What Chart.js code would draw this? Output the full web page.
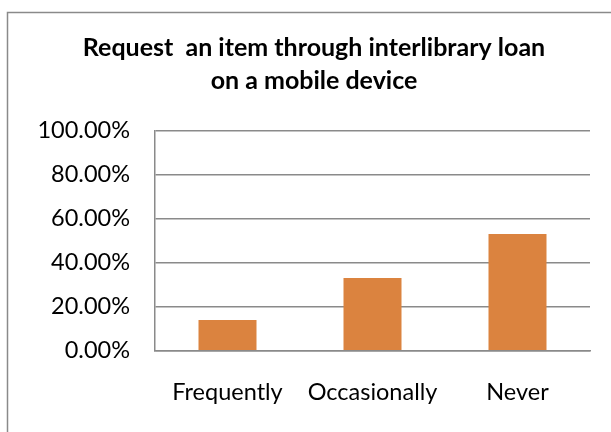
<!DOCTYPE html>
<html>
<head>
<meta charset="utf-8">
<script src="https://cdn.jsdelivr.net/npm/chart.js@4.4.1/dist/chart.umd.min.js"></script>
<style>
html,body{margin:0;padding:0;background:#fff;}
#box{width:611px;height:432px;position:relative;}
</style>
</head>
<body>
<div id="box"><canvas id="canvas"></canvas></div>
<script>
const categories=["Frequently","Occasionally","Never"];
const values=[14,33,53];
const titleLines=["Request  an item through interlibrary loan","on a mobile device"];
const yTicks=[0,20,40,60,80,100];

const frame={
    id:"frame",
    beforeDraw(chart){
        const c=chart.ctx;
        c.save();
        c.strokeStyle="#8a8a8a";
        c.lineWidth=1.5;
        c.strokeRect(7.5,12.5,700,500);
        c.restore();
    }
};

const ctx=document.getElementById("canvas");
new Chart(ctx,{
    type:"bar",
    data:{
        labels:categories,
        datasets:[{
            data:values,
            backgroundColor:"#DB833F",
            borderWidth:0,
            barPercentage:0.4,
            categoryPercentage:1
        }]
    },
    options:{
        responsive:true,
        maintainAspectRatio:false,
        animation:false,
        layout:{
            padding:{left:38,right:21,top:0,bottom:0}
        },
        plugins:{
            legend:{display:false},
            tooltip:{enabled:false},
            title:{
                display:true,
                text:titleLines,
                color:"#000",
                font:{family:"Lato",size:25,weight:"bold",lineHeight:33/25},
                padding:{top:31.5,bottom:33.2}
            }
        },
        scales:{
            y:{
                min:0,
                max:100,
                afterFit:s=>{s.width=117;},
                afterBuildTicks:s=>{s.ticks=yTicks.map(v=>({value:v}));},
                ticks:{
                    padding:25,
                    color:"#000",
                    font:{family:"Lato",size:23.5},
                    callback:v=>v.toFixed(2)+"%"
                },
                grid:{color:"#8a8a8a",lineWidth:1.5,drawTicks:false},
                border:{color:"#8a8a8a",width:1.5}
            },
            x:{
                afterFit:s=>{s.height=81.3;},
                ticks:{
                    padding:28,
                    color:"#000",
                    font:{family:"Lato",size:23.5}
                },
                grid:{display:false,drawTicks:false},
                border:{color:"#8a8a8a",width:1.5}
            }
        }
    },
    plugins:[frame]
});
</script>
</body>
</html>
